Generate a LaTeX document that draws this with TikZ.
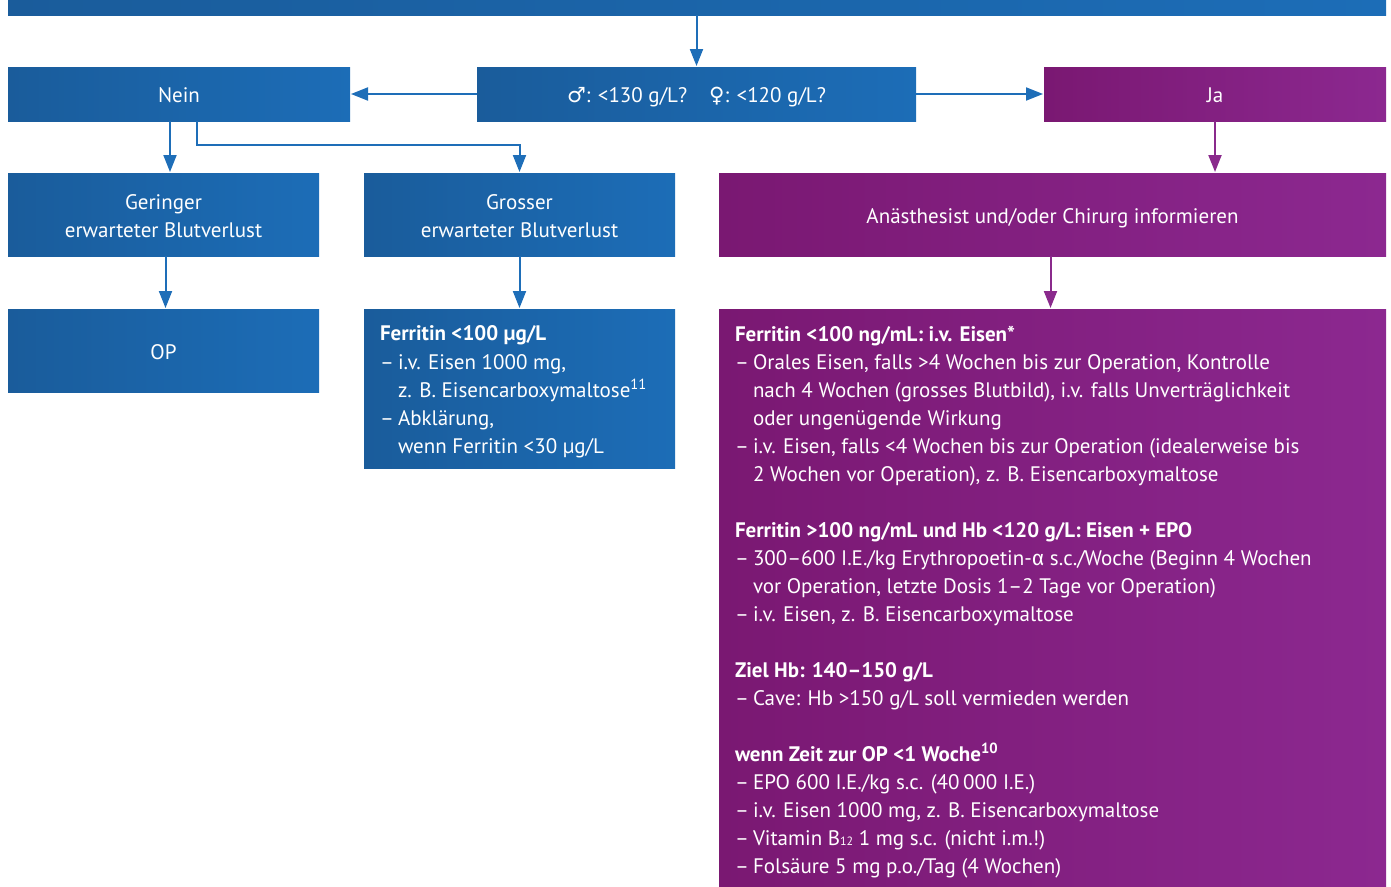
\documentclass[tikz,border=0pt]{standalone}
\usepackage{fontspec}
\setmainfont{PT Sans}
\newfontfamily\symf{DejaVu Sans}
\newfontfamily\grkf{Fira Sans}
\usetikzlibrary{arrows.meta}
\definecolor{blueL}{HTML}{1A5C9B}
\definecolor{blueR}{HTML}{1C6DB7}
\definecolor{purL}{HTML}{7A1872}
\definecolor{purR}{HTML}{8C2890}
\definecolor{blueA}{HTML}{1E6EB8}
\definecolor{purA}{HTML}{8A2A8C}
\newcommand{\dsh}{\makebox[18pt][l]{–}}
\newcommand{\ind}{\hspace*{18pt}}
\begin{document}
\begin{tikzpicture}[x=1pt,y=-1pt,
  box/.style={inner sep=0pt, outer sep=0pt, anchor=north west, text=white,
    font=\fontsize{21}{28}\selectfont, align=center},
  one/.style={text height=17pt, text depth=0pt},
  bluebox/.style={box, left color=blueL, right color=blueR},
  purbox/.style={box, left color=purL, right color=purR},
  txt/.style={inner sep=0pt, outer sep=0pt, anchor=north west, text=white, align=left,
    font=\fontsize{21}{28}\selectfont},
  barr/.style={draw=blueA, line width=2pt, -{Triangle[length=17pt,width=13pt]}, shorten >=1pt},
  parr/.style={draw=purA, line width=2pt, -{Triangle[length=17pt,width=13pt]}, shorten >=1pt}]
\useasboundingbox (0,0) rectangle (1391,886);

% boxes
\node[bluebox, minimum width=1378pt, minimum height=15pt] (top) at (8,0) {};
\node[bluebox, one, minimum width=439pt, minimum height=54pt] (q) at (477,67)
  {{\symf ♂}: <130 g/L?\hspace{22pt}{\symf ♀}: <120 g/L?};
\node[bluebox, one, minimum width=342pt, minimum height=54pt] (nein) at (8,67) {Nein};
\node[purbox, one, minimum width=342pt, minimum height=54pt] (ja) at (1044,67) {Ja};
\node[bluebox, minimum width=311pt, minimum height=83pt] (ger) at (8,173)
  {\rule{0pt}{18pt}Geringer\\erwarteter Blutverlust};
\node[bluebox, minimum width=311pt, minimum height=83pt] (gro) at (364,173)
  {\rule{0pt}{18pt}Grosser\\erwarteter Blutverlust};
\node[purbox, one, minimum width=667pt, minimum height=83pt] (ana) at (719,173)
  {Anästhesist und/oder Chirurg informieren};
\node[bluebox, one, minimum width=311pt, minimum height=83pt] (op) at (8,309) {OP};
\node[bluebox, minimum width=311pt, minimum height=159pt] (fer) at (364,309) {};
\node[purbox, minimum width=667pt, minimum height=590pt] (big) at (719,309) {};

% texts
\node[txt] (fert) at (380,326) {%
\textbf{Ferritin <100 µg/L}\\
\dsh i.v. Eisen 1000 mg,\\
\ind z. B. Eisencarboxymaltose\textsuperscript{11}\\
\dsh Abklärung,\\
\ind wenn Ferritin <30 µg/L};

\node[txt] (bigt) at (735,326) {%
\textbf{Ferritin <100 ng/mL: i.v. Eisen*}\\
\dsh Orales Eisen, falls >4 Wochen bis zur Operation, Kontrolle\\
\ind nach 4 Wochen (grosses Blutbild), i.v. falls Unverträglichkeit\\
\ind oder ungenügende Wirkung\\
\dsh i.v. Eisen, falls <4 Wochen bis zur Operation (idealerweise bis\\
\ind 2 Wochen vor Operation), z. B. Eisencarboxymaltose\\[28pt]
\textbf{Ferritin >100 ng/mL und Hb <120 g/L: Eisen + EPO}\\
\dsh 300–600 I.E./kg Erythropoetin-{\grkf α} s.c./Woche (Beginn 4 Wochen\\
\ind vor Operation, letzte Dosis 1–2 Tage vor Operation)\\
\dsh i.v. Eisen, z. B. Eisencarboxymaltose\\[28pt]
\textbf{Ziel Hb: 140–150 g/L}\\
\dsh Cave: Hb >150 g/L soll vermieden werden\\[28pt]
\textbf{wenn Zeit zur OP <1 Woche\textsuperscript{10}}\\
\dsh EPO 600 I.E./kg s.c. (40\,000 I.E.)\\
\dsh i.v. Eisen 1000 mg, z. B. Eisencarboxymaltose\\
\dsh Vitamin B{\fontsize{12}{12}\selectfont 12} 1 mg s.c. (nicht i.m.!)\\
\dsh Folsäure 5 mg p.o./Tag (4 Wochen)};

% connectors
\draw[barr] (top.south -| q.north) -- (q.north);
\draw[barr] (q.west) -- (nein.east);
\draw[barr] (q.east) -- (ja.west);
\draw[barr] ([xshift=-9pt]nein.south) -- ([xshift=-9pt]nein.south |- ger.north);
\draw[barr] ([xshift=18pt]nein.south) -- ++(0,24) -| (gro.north);
\draw[parr] (ja.south) -- (ja.south |- ana.north);
\draw[barr] ([xshift=2pt]ger.south) -- ([xshift=2pt]op.north);
\draw[barr] (gro.south) -- (fer.north);
\draw[parr] ([xshift=-2pt]ana.south) -- ([xshift=-2pt]ana.south |- big.north);
\end{tikzpicture}
\end{document}
